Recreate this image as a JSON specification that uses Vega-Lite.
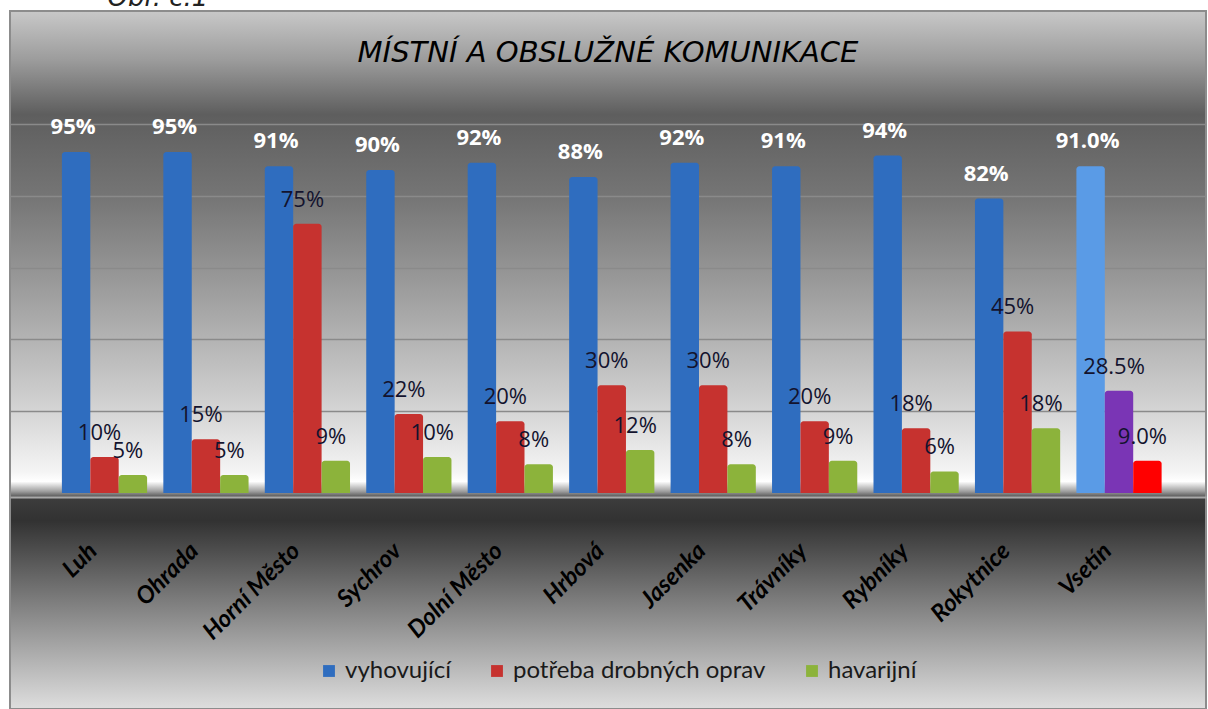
{
  "$schema": "https://vega.github.io/schema/vega-lite/v6.json",
  "width": 1196,
  "height": 698,
  "autosize": {"type": "none"},
  "padding": {"left": 10, "top": 11, "right": 2, "bottom": 0},
  "background": "#ffffff",
  "title": {
    "text": "MÍSTNÍ A OBSLUŽNÉ KOMUNIKACE",
    "font": "DejaVu Sans",
    "fontSize": 29,
    "fontStyle": "italic",
    "fontWeight": "normal",
    "color": "#000000",
    "anchor": "middle",
    "frame": "group",
    "offset": -84
  },
  "config": {
    "view": {
      "fill": {
        "gradient": "linear",
        "x1": 0, "y1": 0, "x2": 0, "y2": 1,
        "stops": [
          {"offset": 0.0, "color": "#c8c8c8"},
          {"offset": 0.07, "color": "#9c9c9c"},
          {"offset": 0.148, "color": "#5e5e5e"},
          {"offset": 0.27, "color": "#767676"},
          {"offset": 0.41, "color": "#a0a0a0"},
          {"offset": 0.56, "color": "#d0d0d0"},
          {"offset": 0.66, "color": "#f4f4f4"},
          {"offset": 0.674, "color": "#ffffff"},
          {"offset": 0.688, "color": "#a0a0a0"},
          {"offset": 0.699, "color": "#3c3c3c"},
          {"offset": 0.73, "color": "#323232"},
          {"offset": 0.844, "color": "#7c7c7c"},
          {"offset": 1.0, "color": "#dedede"}
        ]
      },
      "stroke": "#8c8c8c",
      "strokeWidth": 2
    }
  },
  "data": {
    "values": [
      {"obec": "Luh", "ukazatel": "vyhovující", "hodnota": 95},
      {"obec": "Luh", "ukazatel": "potřeba drobných oprav", "hodnota": 10},
      {"obec": "Luh", "ukazatel": "havarijní", "hodnota": 5},
      {"obec": "Ohrada", "ukazatel": "vyhovující", "hodnota": 95},
      {"obec": "Ohrada", "ukazatel": "potřeba drobných oprav", "hodnota": 15},
      {"obec": "Ohrada", "ukazatel": "havarijní", "hodnota": 5},
      {"obec": "Horní Město", "ukazatel": "vyhovující", "hodnota": 91},
      {"obec": "Horní Město", "ukazatel": "potřeba drobných oprav", "hodnota": 75},
      {"obec": "Horní Město", "ukazatel": "havarijní", "hodnota": 9},
      {"obec": "Sychrov", "ukazatel": "vyhovující", "hodnota": 90},
      {"obec": "Sychrov", "ukazatel": "potřeba drobných oprav", "hodnota": 22},
      {"obec": "Sychrov", "ukazatel": "havarijní", "hodnota": 10},
      {"obec": "Dolní Město", "ukazatel": "vyhovující", "hodnota": 92},
      {"obec": "Dolní Město", "ukazatel": "potřeba drobných oprav", "hodnota": 20},
      {"obec": "Dolní Město", "ukazatel": "havarijní", "hodnota": 8},
      {"obec": "Hrbová", "ukazatel": "vyhovující", "hodnota": 88},
      {"obec": "Hrbová", "ukazatel": "potřeba drobných oprav", "hodnota": 30},
      {"obec": "Hrbová", "ukazatel": "havarijní", "hodnota": 12},
      {"obec": "Jasenka", "ukazatel": "vyhovující", "hodnota": 92},
      {"obec": "Jasenka", "ukazatel": "potřeba drobných oprav", "hodnota": 30},
      {"obec": "Jasenka", "ukazatel": "havarijní", "hodnota": 8},
      {"obec": "Trávníky", "ukazatel": "vyhovující", "hodnota": 91},
      {"obec": "Trávníky", "ukazatel": "potřeba drobných oprav", "hodnota": 20},
      {"obec": "Trávníky", "ukazatel": "havarijní", "hodnota": 9},
      {"obec": "Rybníky", "ukazatel": "vyhovující", "hodnota": 94},
      {"obec": "Rybníky", "ukazatel": "potřeba drobných oprav", "hodnota": 18},
      {"obec": "Rybníky", "ukazatel": "havarijní", "hodnota": 6},
      {"obec": "Rokytnice", "ukazatel": "vyhovující", "hodnota": 82},
      {"obec": "Rokytnice", "ukazatel": "potřeba drobných oprav", "hodnota": 45},
      {"obec": "Rokytnice", "ukazatel": "havarijní", "hodnota": 18},
      {"obec": "Vsetín", "ukazatel": "vyhovující", "hodnota": 91.0},
      {"obec": "Vsetín", "ukazatel": "potřeba drobných oprav", "hodnota": 28.5},
      {"obec": "Vsetín", "ukazatel": "havarijní", "hodnota": 9.0}
    ]
  },
  "transform": [
    {"calculate": "datum.obec === 'Vsetín' ? format(datum.hodnota, '.1f') + '%' : format(datum.hodnota, '.0f') + '%'", "as": "popisek"}
  ],
  "resolve": {"scale": {"y": "independent"}},
  "layer": [
    {
      "mark": {"type": "rule", "opacity": 0},
      "encoding": {
        "y": {
          "datum": 0,
          "type": "quantitative",
          "scale": {"domain": [-62.95, 131.48], "nice": false, "zero": false},
          "axis": {
            "orient": "left",
            "values": [20, 40, 60, 80, 100],
            "grid": true,
            "gridColor": "#8a8a8a",
            "gridWidth": 1.5,
            "labels": false,
            "ticks": false,
            "domain": false,
            "title": "Obr. č.1",
            "titleAngle": 0,
            "titleX": 97,
            "titleY": -6,
            "titleAlign": "left",
            "titleBaseline": "alphabetic",
            "titleFont": "DejaVu Sans",
            "titleFontSize": 26,
            "titleFontStyle": "italic",
            "titleFontWeight": "normal",
            "titleColor": "#222222"
          }
        }
      }
    },
    {
      "mark": {"type": "bar", "cornerRadiusTopLeft": 3, "cornerRadiusTopRight": 3},
      "encoding": {
        "x": {
          "field": "obec",
          "type": "nominal",
          "sort": null,
          "scale": {"paddingInner": 0.16, "paddingOuter": 0.4745, "align": 0.539},
          "axis": {
            "title": null,
            "orient": "bottom",
            "offset": -212,
            "ticks": false,
            "domain": true,
            "domainColor": "#a8a8a8",
            "domainWidth": 2,
            "labelAngle": -45,
            "labelAlign": "right",
            "labelBaseline": "middle",
            "labelPadding": 50,
            "labelOffset": -11,
            "labelFont": "Lato",
            "labelFontSize": 24,
            "labelFontWeight": "bold",
            "labelFontStyle": "italic",
            "labelColor": "#000000",
            "labelLimit": 0
          }
        },
        "xOffset": {
          "field": "ukazatel",
          "type": "nominal",
          "sort": ["vyhovující", "potřeba drobných oprav", "havarijní"],
          "scale": {"paddingInner": 0}
        },
        "y": {
          "field": "hodnota",
          "type": "quantitative",
          "scale": {"domain": [-60.17, 134.26], "nice": false, "zero": false},
          "axis": null
        },
        "y2": {"datum": 0},
        "color": {
          "field": "ukazatel",
          "type": "nominal",
          "sort": ["vyhovující", "potřeba drobných oprav", "havarijní"],
          "scale": {
            "domain": ["vyhovující", "potřeba drobných oprav", "havarijní"],
            "range": ["#2f6dbf", "#c6322f", "#8cb33b"]
          },
          "legend": {
            "title": null,
            "orient": "none",
            "direction": "horizontal",
            "legendX": 307,
            "legendY": 648,
            "symbolType": "square",
            "symbolSize": 140,
            "symbolStrokeWidth": 0,
            "labelFont": "Lato",
            "labelFontSize": 24,
            "labelColor": "#1a1a1a",
            "labelLimit": 0,
            "labelOffset": 4,
            "columnPadding": 34
          },
          "condition": [
            {"test": "datum.obec === 'Vsetín' && datum.ukazatel === 'vyhovující'", "value": "#5a9be6"},
            {"test": "datum.obec === 'Vsetín' && datum.ukazatel === 'potřeba drobných oprav'", "value": "#7a35b5"},
            {"test": "datum.obec === 'Vsetín' && datum.ukazatel === 'havarijní'", "value": "#ff0000"}
          ]
        }
      }
    },
    {
      "transform": [{"filter": "datum.ukazatel === 'vyhovující'"}],
      "mark": {"type": "text", "font": "Open Sans", "fontSize": 22, "fontWeight": "bold", "color": "#ffffff", "baseline": "middle", "dy": -25, "dx": -3},
      "encoding": {
        "x": {"field": "obec", "type": "nominal", "sort": null},
        "xOffset": {"field": "ukazatel", "type": "nominal", "sort": ["vyhovující", "potřeba drobných oprav", "havarijní"]},
        "y": {"field": "hodnota", "type": "quantitative", "scale": {"domain": [-60.17, 134.26], "nice": false, "zero": false}, "axis": null},
        "text": {"field": "popisek"}
      }
    },
    {
      "transform": [{"filter": "datum.ukazatel !== 'vyhovující'"}],
      "mark": {"type": "text", "font": "Open Sans", "fontSize": 22, "fontWeight": "normal", "color": "#13132e", "baseline": "middle", "dy": -24, "dx": -5},
      "encoding": {
        "x": {"field": "obec", "type": "nominal", "sort": null},
        "xOffset": {"field": "ukazatel", "type": "nominal", "sort": ["vyhovující", "potřeba drobných oprav", "havarijní"]},
        "y": {"field": "hodnota", "type": "quantitative", "scale": {"domain": [-60.17, 134.26], "nice": false, "zero": false}, "axis": null},
        "text": {"field": "popisek"}
      }
    }
  ]
}
